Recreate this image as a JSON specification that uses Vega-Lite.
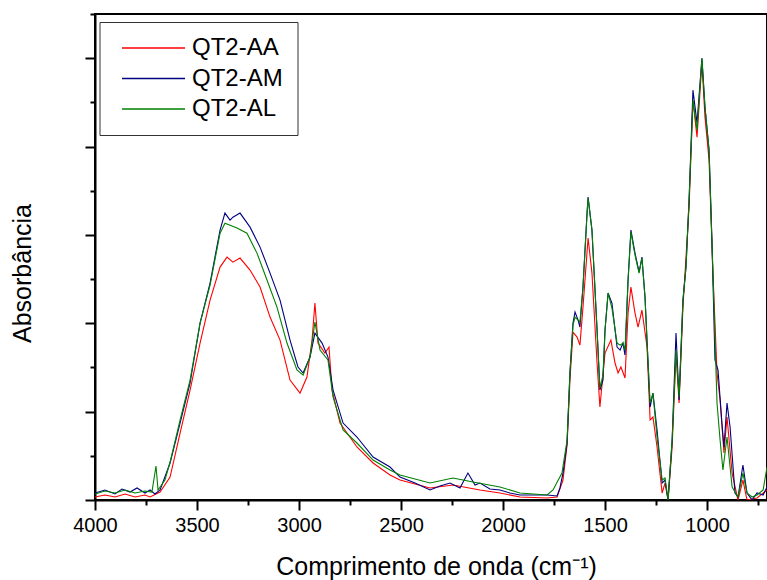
{
  "$schema": "https://vega.github.io/schema/vega-lite/v6.json",
  "width": 672,
  "height": 486,
  "autosize": {"type": "none"},
  "padding": {"left": 95, "top": 14, "right": 0, "bottom": 80},
  "background": "white",
  "config": {
    "font": "Liberation Sans",
    "view": {"stroke": "black", "strokeWidth": 2},
    "axis": {"grid": false, "domainColor": "black", "tickColor": "black", "labelColor": "black", "titleColor": "black", "domainWidth": 2, "tickWidth": 2, "labelFont": "Liberation Sans", "titleFont": "Liberation Sans", "titleFontWeight": "normal"}
  },
  "datasets": {
    "spectra": [
      {"s":"QT2-AA","w":4000,"a":0.034},{"s":"QT2-AA","w":3951,"a":0.057},{"s":"QT2-AA","w":3902,"a":0.034},{"s":"QT2-AA","w":3853,"a":0.068},{"s":"QT2-AA","w":3804,"a":0.034},{"s":"QT2-AA","w":3755,"a":0.057},{"s":"QT2-AA","w":3730,"a":0.034},{"s":"QT2-AA","w":3681,"a":0.09},{"s":"QT2-AA","w":3632,"a":0.26},{"s":"QT2-AA","w":3583,"a":0.758},{"s":"QT2-AA","w":3534,"a":1.244},{"s":"QT2-AA","w":3485,"a":1.776},{"s":"QT2-AA","w":3436,"a":2.262},{"s":"QT2-AA","w":3387,"a":2.636},{"s":"QT2-AA","w":3353,"a":2.749},{"s":"QT2-AA","w":3324,"a":2.692},{"s":"QT2-AA","w":3289,"a":2.738},{"s":"QT2-AA","w":3240,"a":2.602},{"s":"QT2-AA","w":3191,"a":2.41},{"s":"QT2-AA","w":3142,"a":2.07},{"s":"QT2-AA","w":3093,"a":1.81},{"s":"QT2-AA","w":3044,"a":1.357},{"s":"QT2-AA","w":2995,"a":1.21},{"s":"QT2-AA","w":2961,"a":1.391},{"s":"QT2-AA","w":2936,"a":1.81},{"s":"QT2-AA","w":2922,"a":2.229},{"s":"QT2-AA","w":2907,"a":1.776},{"s":"QT2-AA","w":2873,"a":1.663},{"s":"QT2-AA","w":2853,"a":1.731},{"s":"QT2-AA","w":2838,"a":1.244},{"s":"QT2-AA","w":2799,"a":0.871},{"s":"QT2-AA","w":2716,"a":0.6},{"s":"QT2-AA","w":2637,"a":0.419},{"s":"QT2-AA","w":2554,"a":0.283},{"s":"QT2-AA","w":2505,"a":0.226},{"s":"QT2-AA","w":2358,"a":0.136},{"s":"QT2-AA","w":2245,"a":0.17},{"s":"QT2-AA","w":2113,"a":0.113},{"s":"QT2-AA","w":2015,"a":0.079},{"s":"QT2-AA","w":1917,"a":0.034},{"s":"QT2-AA","w":1784,"a":0.023},{"s":"QT2-AA","w":1735,"a":0.034},{"s":"QT2-AA","w":1706,"a":0.226},{"s":"QT2-AA","w":1686,"a":0.622},{"s":"QT2-AA","w":1672,"a":1.357},{"s":"QT2-AA","w":1657,"a":1.9},{"s":"QT2-AA","w":1637,"a":1.844},{"s":"QT2-AA","w":1623,"a":1.753},{"s":"QT2-AA","w":1608,"a":2.183},{"s":"QT2-AA","w":1583,"a":2.964},{"s":"QT2-AA","w":1564,"a":2.568},{"s":"QT2-AA","w":1539,"a":1.55},{"s":"QT2-AA","w":1525,"a":1.052},{"s":"QT2-AA","w":1500,"a":1.663},{"s":"QT2-AA","w":1471,"a":1.81},{"s":"QT2-AA","w":1451,"a":1.55},{"s":"QT2-AA","w":1436,"a":1.437},{"s":"QT2-AA","w":1422,"a":1.505},{"s":"QT2-AA","w":1402,"a":1.38},{"s":"QT2-AA","w":1387,"a":2.115},{"s":"QT2-AA","w":1373,"a":2.41},{"s":"QT2-AA","w":1353,"a":2.115},{"s":"QT2-AA","w":1338,"a":1.957},{"s":"QT2-AA","w":1319,"a":2.149},{"s":"QT2-AA","w":1294,"a":1.731},{"s":"QT2-AA","w":1279,"a":0.905},{"s":"QT2-AA","w":1265,"a":0.939},{"s":"QT2-AA","w":1245,"a":0.6},{"s":"QT2-AA","w":1220,"a":0.079},{"s":"QT2-AA","w":1206,"a":0.192},{"s":"QT2-AA","w":1191,"a":0},{"s":"QT2-AA","w":1171,"a":0.6},{"s":"QT2-AA","w":1152,"a":1.663},{"s":"QT2-AA","w":1137,"a":1.097},{"s":"QT2-AA","w":1118,"a":2.183},{"s":"QT2-AA","w":1088,"a":3.314},{"s":"QT2-AA","w":1069,"a":4.525},{"s":"QT2-AA","w":1049,"a":4.106},{"s":"QT2-AA","w":1025,"a":4.955},{"s":"QT2-AA","w":1010,"a":4.333},{"s":"QT2-AA","w":990,"a":3.846},{"s":"QT2-AA","w":971,"a":2.568},{"s":"QT2-AA","w":951,"a":1.437},{"s":"QT2-AA","w":936,"a":1.131},{"s":"QT2-AA","w":917,"a":0.532},{"s":"QT2-AA","w":902,"a":0.939},{"s":"QT2-AA","w":877,"a":0.305},{"s":"QT2-AA","w":848,"a":0},{"s":"QT2-AA","w":824,"a":0.226},{"s":"QT2-AA","w":804,"a":0},{"s":"QT2-AA","w":755,"a":0.023},{"s":"QT2-AA","w":706,"a":0.113},
      {"s":"QT2-AM","w":4000,"a":0.079},{"s":"QT2-AM","w":3951,"a":0.113},{"s":"QT2-AM","w":3902,"a":0.068},{"s":"QT2-AM","w":3868,"a":0.124},{"s":"QT2-AM","w":3828,"a":0.09},{"s":"QT2-AM","w":3794,"a":0.136},{"s":"QT2-AM","w":3755,"a":0.079},{"s":"QT2-AM","w":3730,"a":0.113},{"s":"QT2-AM","w":3706,"a":0.068},{"s":"QT2-AM","w":3681,"a":0.113},{"s":"QT2-AM","w":3632,"a":0.419},{"s":"QT2-AM","w":3583,"a":0.871},{"s":"QT2-AM","w":3534,"a":1.324},{"s":"QT2-AM","w":3485,"a":2.002},{"s":"QT2-AM","w":3436,"a":2.455},{"s":"QT2-AM","w":3387,"a":3.054},{"s":"QT2-AM","w":3363,"a":3.247},{"s":"QT2-AM","w":3338,"a":3.167},{"s":"QT2-AM","w":3324,"a":3.201},{"s":"QT2-AM","w":3289,"a":3.247},{"s":"QT2-AM","w":3240,"a":3.088},{"s":"QT2-AM","w":3191,"a":2.862},{"s":"QT2-AM","w":3142,"a":2.568},{"s":"QT2-AM","w":3093,"a":2.262},{"s":"QT2-AM","w":3044,"a":1.81},{"s":"QT2-AM","w":3005,"a":1.505},{"s":"QT2-AM","w":2980,"a":1.437},{"s":"QT2-AM","w":2946,"a":1.618},{"s":"QT2-AM","w":2922,"a":1.889},{"s":"QT2-AM","w":2887,"a":1.776},{"s":"QT2-AM","w":2858,"a":1.618},{"s":"QT2-AM","w":2833,"a":1.244},{"s":"QT2-AM","w":2784,"a":0.871},{"s":"QT2-AM","w":2716,"a":0.713},{"s":"QT2-AM","w":2637,"a":0.486},{"s":"QT2-AM","w":2554,"a":0.373},{"s":"QT2-AM","w":2505,"a":0.26},{"s":"QT2-AM","w":2431,"a":0.192},{"s":"QT2-AM","w":2358,"a":0.113},{"s":"QT2-AM","w":2309,"a":0.158},{"s":"QT2-AM","w":2260,"a":0.192},{"s":"QT2-AM","w":2211,"a":0.136},{"s":"QT2-AM","w":2172,"a":0.305},{"s":"QT2-AM","w":2137,"a":0.17},{"s":"QT2-AM","w":2113,"a":0.192},{"s":"QT2-AM","w":2064,"a":0.124},{"s":"QT2-AM","w":2015,"a":0.113},{"s":"QT2-AM","w":1966,"a":0.079},{"s":"QT2-AM","w":1917,"a":0.057},{"s":"QT2-AM","w":1843,"a":0.057},{"s":"QT2-AM","w":1784,"a":0.057},{"s":"QT2-AM","w":1735,"a":0.045},{"s":"QT2-AM","w":1721,"a":0.136},{"s":"QT2-AM","w":1706,"a":0.305},{"s":"QT2-AM","w":1686,"a":0.645},{"s":"QT2-AM","w":1672,"a":1.437},{"s":"QT2-AM","w":1657,"a":2.002},{"s":"QT2-AM","w":1647,"a":2.127},{"s":"QT2-AM","w":1632,"a":2.036},{"s":"QT2-AM","w":1623,"a":1.957},{"s":"QT2-AM","w":1608,"a":2.41},{"s":"QT2-AM","w":1588,"a":3.247},{"s":"QT2-AM","w":1583,"a":3.428},{"s":"QT2-AM","w":1564,"a":3.054},{"s":"QT2-AM","w":1539,"a":1.923},{"s":"QT2-AM","w":1525,"a":1.244},{"s":"QT2-AM","w":1510,"a":1.357},{"s":"QT2-AM","w":1500,"a":1.923},{"s":"QT2-AM","w":1485,"a":2.342},{"s":"QT2-AM","w":1466,"a":2.229},{"s":"QT2-AM","w":1441,"a":1.731},{"s":"QT2-AM","w":1426,"a":1.697},{"s":"QT2-AM","w":1412,"a":1.776},{"s":"QT2-AM","w":1402,"a":1.64},{"s":"QT2-AM","w":1387,"a":2.489},{"s":"QT2-AM","w":1373,"a":3.054},{"s":"QT2-AM","w":1353,"a":2.794},{"s":"QT2-AM","w":1333,"a":2.579},{"s":"QT2-AM","w":1319,"a":2.749},{"s":"QT2-AM","w":1304,"a":2.296},{"s":"QT2-AM","w":1289,"a":1.55},{"s":"QT2-AM","w":1279,"a":1.052},{"s":"QT2-AM","w":1265,"a":1.21},{"s":"QT2-AM","w":1245,"a":0.792},{"s":"QT2-AM","w":1230,"a":0.43},{"s":"QT2-AM","w":1220,"a":0.192},{"s":"QT2-AM","w":1206,"a":0.226},{"s":"QT2-AM","w":1191,"a":0},{"s":"QT2-AM","w":1171,"a":0.679},{"s":"QT2-AM","w":1152,"a":1.889},{"s":"QT2-AM","w":1137,"a":1.131},{"s":"QT2-AM","w":1118,"a":2.262},{"s":"QT2-AM","w":1103,"a":2.636},{"s":"QT2-AM","w":1088,"a":3.394},{"s":"QT2-AM","w":1069,"a":4.638},{"s":"QT2-AM","w":1049,"a":4.265},{"s":"QT2-AM","w":1025,"a":5.0},{"s":"QT2-AM","w":1010,"a":4.446},{"s":"QT2-AM","w":990,"a":3.959},{"s":"QT2-AM","w":976,"a":2.941},{"s":"QT2-AM","w":961,"a":1.584},{"s":"QT2-AM","w":946,"a":1.471},{"s":"QT2-AM","w":927,"a":0.871},{"s":"QT2-AM","w":917,"a":0.6},{"s":"QT2-AM","w":902,"a":1.097},{"s":"QT2-AM","w":887,"a":0.826},{"s":"QT2-AM","w":863,"a":0.079},{"s":"QT2-AM","w":848,"a":0.034},{"s":"QT2-AM","w":824,"a":0.396},{"s":"QT2-AM","w":804,"a":0.079},{"s":"QT2-AM","w":779,"a":0},{"s":"QT2-AM","w":755,"a":0.079},{"s":"QT2-AM","w":725,"a":0.057},{"s":"QT2-AM","w":706,"a":0.147},
      {"s":"QT2-AL","w":4000,"a":0.068},{"s":"QT2-AL","w":3951,"a":0.102},{"s":"QT2-AL","w":3902,"a":0.079},{"s":"QT2-AL","w":3853,"a":0.113},{"s":"QT2-AL","w":3804,"a":0.079},{"s":"QT2-AL","w":3755,"a":0.102},{"s":"QT2-AL","w":3721,"a":0.09},{"s":"QT2-AL","w":3701,"a":0.385},{"s":"QT2-AL","w":3691,"a":0.113},{"s":"QT2-AL","w":3657,"a":0.226},{"s":"QT2-AL","w":3632,"a":0.43},{"s":"QT2-AL","w":3583,"a":0.905},{"s":"QT2-AL","w":3534,"a":1.357},{"s":"QT2-AL","w":3485,"a":2.002},{"s":"QT2-AL","w":3436,"a":2.432},{"s":"QT2-AL","w":3387,"a":3.02},{"s":"QT2-AL","w":3363,"a":3.133},{"s":"QT2-AL","w":3304,"a":3.077},{"s":"QT2-AL","w":3255,"a":3.02},{"s":"QT2-AL","w":3206,"a":2.794},{"s":"QT2-AL","w":3157,"a":2.489},{"s":"QT2-AL","w":3108,"a":2.183},{"s":"QT2-AL","w":3059,"a":1.776},{"s":"QT2-AL","w":3010,"a":1.471},{"s":"QT2-AL","w":2980,"a":1.414},{"s":"QT2-AL","w":2946,"a":1.618},{"s":"QT2-AL","w":2922,"a":2.014},{"s":"QT2-AL","w":2897,"a":1.697},{"s":"QT2-AL","w":2858,"a":1.584},{"s":"QT2-AL","w":2833,"a":1.165},{"s":"QT2-AL","w":2784,"a":0.792},{"s":"QT2-AL","w":2716,"a":0.645},{"s":"QT2-AL","w":2637,"a":0.452},{"s":"QT2-AL","w":2554,"a":0.339},{"s":"QT2-AL","w":2505,"a":0.283},{"s":"QT2-AL","w":2358,"a":0.192},{"s":"QT2-AL","w":2245,"a":0.249},{"s":"QT2-AL","w":2147,"a":0.204},{"s":"QT2-AL","w":2015,"a":0.147},{"s":"QT2-AL","w":1917,"a":0.079},{"s":"QT2-AL","w":1784,"a":0.057},{"s":"QT2-AL","w":1755,"a":0.113},{"s":"QT2-AL","w":1711,"a":0.305},{"s":"QT2-AL","w":1686,"a":0.679},{"s":"QT2-AL","w":1672,"a":1.437},{"s":"QT2-AL","w":1657,"a":1.98},{"s":"QT2-AL","w":1647,"a":2.07},{"s":"QT2-AL","w":1623,"a":2.014},{"s":"QT2-AL","w":1608,"a":2.41},{"s":"QT2-AL","w":1588,"a":3.247},{"s":"QT2-AL","w":1583,"a":3.416},{"s":"QT2-AL","w":1564,"a":3.054},{"s":"QT2-AL","w":1539,"a":1.923},{"s":"QT2-AL","w":1525,"a":1.267},{"s":"QT2-AL","w":1510,"a":1.414},{"s":"QT2-AL","w":1500,"a":1.923},{"s":"QT2-AL","w":1485,"a":2.342},{"s":"QT2-AL","w":1466,"a":2.172},{"s":"QT2-AL","w":1441,"a":1.776},{"s":"QT2-AL","w":1426,"a":1.753},{"s":"QT2-AL","w":1412,"a":1.776},{"s":"QT2-AL","w":1402,"a":1.697},{"s":"QT2-AL","w":1387,"a":2.489},{"s":"QT2-AL","w":1373,"a":3.032},{"s":"QT2-AL","w":1353,"a":2.772},{"s":"QT2-AL","w":1333,"a":2.568},{"s":"QT2-AL","w":1319,"a":2.738},{"s":"QT2-AL","w":1304,"a":2.296},{"s":"QT2-AL","w":1289,"a":1.55},{"s":"QT2-AL","w":1279,"a":1.097},{"s":"QT2-AL","w":1265,"a":1.21},{"s":"QT2-AL","w":1245,"a":0.713},{"s":"QT2-AL","w":1220,"a":0.226},{"s":"QT2-AL","w":1206,"a":0.249},{"s":"QT2-AL","w":1191,"a":0},{"s":"QT2-AL","w":1171,"a":0.679},{"s":"QT2-AL","w":1152,"a":1.697},{"s":"QT2-AL","w":1137,"a":1.165},{"s":"QT2-AL","w":1118,"a":2.262},{"s":"QT2-AL","w":1103,"a":2.636},{"s":"QT2-AL","w":1088,"a":3.394},{"s":"QT2-AL","w":1069,"a":4.525},{"s":"QT2-AL","w":1049,"a":4.186},{"s":"QT2-AL","w":1025,"a":5.0},{"s":"QT2-AL","w":1010,"a":4.446},{"s":"QT2-AL","w":990,"a":3.959},{"s":"QT2-AL","w":971,"a":2.568},{"s":"QT2-AL","w":951,"a":1.097},{"s":"QT2-AL","w":936,"a":0.679},{"s":"QT2-AL","w":922,"a":0.339},{"s":"QT2-AL","w":902,"a":0.713},{"s":"QT2-AL","w":877,"a":0.147},{"s":"QT2-AL","w":848,"a":0.034},{"s":"QT2-AL","w":824,"a":0.305},{"s":"QT2-AL","w":804,"a":0.079},{"s":"QT2-AL","w":779,"a":0.034},{"s":"QT2-AL","w":755,"a":0.057},{"s":"QT2-AL","w":725,"a":0.113},{"s":"QT2-AL","w":706,"a":0.373}
    ]
  },
  "data": {"name": "spectra"},
  "layer": [
    {
      "mark": {"type": "line", "strokeWidth": 1.1, "clip": true},
      "encoding": {
        "x": {"field": "w", "type": "quantitative", "scale": {"domain": [4000, 706], "nice": false, "zero": false},
          "axis": {"values": [4000, 3500, 3000, 2500, 2000, 1500, 1000], "format": "d", "labelFlush": false, "tickSize": 10, "labelFontSize": 20, "labelPadding": 5, "title": "Comprimento de onda (cm⁻¹)", "titleFontSize": 25, "titlePadding": 19, "titleX": 341, "orient": "bottom"}},
        "y": {"field": "a", "type": "quantitative", "scale": {"domain": [0, 5.5], "nice": false, "zero": false},
          "axis": {"values": [0, 1, 2, 3, 4, 5], "labels": false, "tickSize": 10, "title": "Absorbância", "titleFontSize": 25, "titlePadding": 49, "titleY": 259, "orient": "left"}},
        "color": {"field": "s", "type": "nominal", "sort": ["QT2-AA", "QT2-AM", "QT2-AL"],
          "scale": {"domain": ["QT2-AA", "QT2-AM", "QT2-AL"], "range": ["#ff0000", "#000080", "#008000"]},
          "legend": {"title": null, "orient": "none", "legendX": 4.5, "legendY": 8, "symbolType": "M-4,0H4", "symbolSize": 248, "symbolStrokeWidth": 1.5, "labelFontSize": 24, "labelFont": "Liberation Sans", "labelColor": "black", "padding": 14, "rowPadding": 6.5, "symbolOffset": 28, "labelOffset": 26.5, "strokeColor": "#333333", "fillColor": "white"}}
      }
    },
    {
      "mark": {"type": "point", "opacity": 0},
      "encoding": {
        "x": {"field": "w", "type": "quantitative", "scale": {"domain": [4000, 706], "nice": false, "zero": false},
          "axis": {"values": [3750, 3250, 2750, 2250, 1750, 1250, 750], "labels": false, "domain": false, "tickSize": 5, "title": null, "orient": "bottom"}},
        "y": {"field": "a", "type": "quantitative", "scale": {"domain": [0, 5.5], "nice": false, "zero": false},
          "axis": {"values": [0.5, 1.5, 2.5, 3.5, 4.5, 5.5], "labels": false, "domain": false, "tickSize": 5, "title": null, "orient": "left"}}
      }
    }
  ],
  "resolve": {"axis": {"x": "independent", "y": "independent"}}
}
